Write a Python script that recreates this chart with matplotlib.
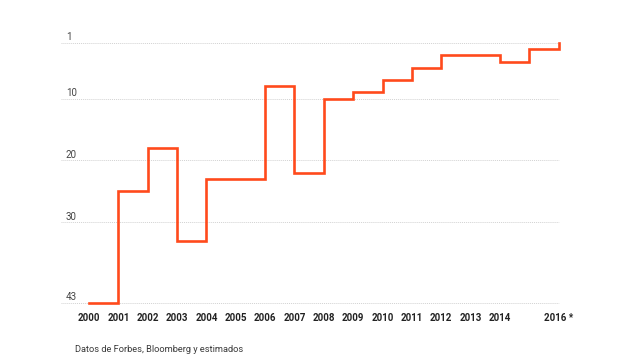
import matplotlib
matplotlib.use("Agg")
import matplotlib.pyplot as plt

# posicion en el ranking por año (1 = primero)
years = [2000, 2001, 2002, 2003, 2004, 2005, 2006, 2007, 2008,
         2009, 2010, 2011, 2012, 2013, 2014, 2015, 2016]
rank = [43, 25, 18, 33, 23, 23, 8, 22, 10, 9, 7, 5, 3, 3, 4, 2, 1]

rank_ticks = [1, 10, 20, 30, 43]
year_labels = ["2000", "2001", "2002", "2003", "2004", "2005", "2006",
               "2007", "2008", "2009", "2010", "2011", "2012", "2013",
               "2014", "", "2016 *"]
source = "Datos de Forbes, Bloomberg y estimados"

plt.rcParams['font.family'] = ['Roboto', 'DejaVu Sans']

W, H = 640, 360
fig = plt.figure(figsize=(W / 100, H / 100), dpi=100)
ax = fig.add_axes([0, 0, 1, 1])

# escala: pixel -> datos
x0_px, x1_px = 89, 558.7
y0_px, y1_px = 43, 302.7
px_year = (x1_px - x0_px) / (years[-1] - years[0])
px_rank = (y1_px - y0_px) / (rank_ticks[-1] - rank_ticks[0])
ax.set_xlim(years[0] - x0_px / px_year, years[0] + (W - x0_px) / px_year)
ax.set_ylim(rank_ticks[0] + (H - y0_px) / px_rank,
            rank_ticks[0] - y0_px / px_rank)
ax.axis('off')

x_grid_left = years[0] - (x0_px - 61) / px_year
for r in rank_ticks:
    ax.hlines(r, x_grid_left, years[-1], colors="#d2d2d2",
              linestyles=(0, (1, 1)), linewidth=0.7, zorder=1)
    ax.text(years[0] - (x0_px - 66) / px_year, r - 0.45, str(r),
            fontsize=7, color="#444444", ha="left", va="baseline")

ax.plot(years, rank, drawstyle="steps-post", color="#ff4a1c",
        linewidth=1.9, solid_joinstyle="miter", zorder=3)

y_lab = rank_ticks[-1] + (318 - y1_px) / px_rank
for yr, lab in zip(years, year_labels):
    ax.text(yr, y_lab, lab, fontsize=7, fontweight="bold",
            color="#222222", ha="center", va="center")

fig.text(75 / W, 1 - 350 / H, source, fontsize=6.7, color="#3a3a3a",
         ha="left", va="center")

fig.savefig("out.png", dpi=100, facecolor="white")
